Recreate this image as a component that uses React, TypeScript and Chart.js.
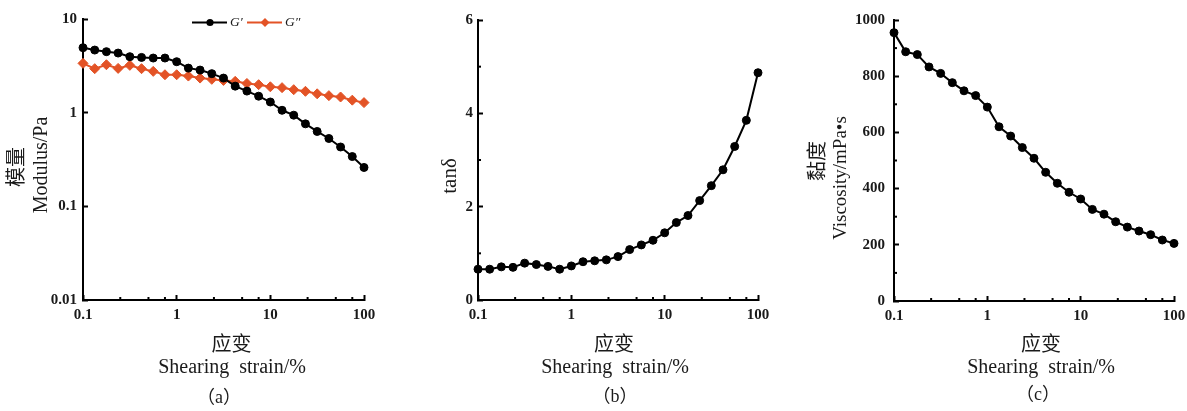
import React, { useEffect, useRef } from "react";
import { Chart, registerables } from "chart.js";

Chart.register(...registerables);

// ---------- data ----------
const STRAIN = [0.1, 0.1334, 0.1778, 0.2371, 0.3162, 0.4217, 0.5623, 0.7499, 1, 1.334, 1.778, 2.371, 3.162, 4.217, 5.623, 7.499, 10, 13.34, 17.78, 23.71, 31.62, 42.17, 56.23, 74.99, 100];
const G_STORAGE = [4.94, 4.66, 4.48, 4.33, 3.96, 3.89, 3.83, 3.83, 3.5, 2.99, 2.85, 2.61, 2.34, 1.92, 1.7, 1.5, 1.3, 1.06, 0.94, 0.76, 0.63, 0.53, 0.43, 0.34, 0.26];
const G_LOSS = [3.36, 2.95, 3.25, 2.97, 3.2, 2.95, 2.76, 2.54, 2.54, 2.46, 2.34, 2.27, 2.21, 2.16, 2.05, 1.99, 1.89, 1.85, 1.76, 1.69, 1.59, 1.52, 1.47, 1.36, 1.28];
const TAN_DELTA = [0.66, 0.66, 0.71, 0.7, 0.79, 0.76, 0.72, 0.66, 0.73, 0.82, 0.84, 0.86, 0.93, 1.08, 1.18, 1.28, 1.44, 1.66, 1.81, 2.13, 2.45, 2.79, 3.29, 3.85, 4.87];
const VISCOSITY = [955, 887, 877, 833, 810, 777, 748, 731, 690, 620, 587, 546, 508, 458, 419, 387, 363, 326, 309, 282, 263, 249, 236, 217, 205];

const X_TICKS = [0.1, 1, 10, 100];
const X_MINOR = [0.25, 0.5, 0.75, 2.5, 5, 7.5, 25, 50, 75];
const MODULUS_TICKS = [0.01, 0.1, 1, 10];
const TAN_TICKS = [0, 2, 4, 6];
const TAN_MINOR = [1, 3, 5];
const VISC_TICKS = [0, 200, 400, 600, 800, 1000];
const VISC_MINOR = [100, 300, 500, 700, 900];

const SERIES_LABELS = ["G\u2032", "G\u2033"];
const X_TITLE_CN = "应变";
const X_TITLE_EN = "Shearing  strain/%";
const CAPTIONS = ["（a）", "（b）", "（c）"];

// ---------- styles ----------
const H = 411;
const BLACK = "#000000";
const ORANGE = "#E35326";
const TEXT = "#1a1a1a";
const SERIF = '"Liberation Serif", "Times New Roman", serif';
const CJK = '"Noto Sans CJK SC", sans-serif';
const tickFont = { family: SERIF, size: 15, weight: "bold" as const };

const pts = (ys: number[]) => STRAIN.map((x, i) => ({ x, y: ys[i] }));

function zeroPadding(s: any) {
  s.paddingLeft = 0;
  s.paddingRight = 0;
  s.paddingTop = 0;
  s.paddingBottom = 0;
}

function minorTicks(xMinor: number[], yMinor: number[]) {
  return {
    id: "minorTicks",
    afterDraw(chart: any) {
      const { ctx, chartArea, scales } = chart;
      ctx.save();
      ctx.strokeStyle = BLACK;
      ctx.lineWidth = 2;
      xMinor.forEach((v) => {
        const px = scales.x.getPixelForValue(v);
        ctx.beginPath();
        ctx.moveTo(px, chartArea.bottom);
        ctx.lineTo(px, chartArea.bottom - 3);
        ctx.stroke();
      });
      yMinor.forEach((v) => {
        const py = scales.y.getPixelForValue(v);
        ctx.beginPath();
        ctx.moveTo(chartArea.left, py);
        ctx.lineTo(chartArea.left + 3, py);
        ctx.stroke();
      });
      ctx.restore();
    },
  };
}

type TextItem = { text: string; x: number; y: number; font: string; rotate?: boolean };

function panelTexts(items: TextItem[]) {
  return {
    id: "panelTexts",
    afterDraw(chart: any) {
      const ctx = chart.ctx;
      items.forEach((t) => {
        ctx.save();
        ctx.font = t.font;
        ctx.fillStyle = TEXT;
        ctx.textAlign = "center";
        ctx.textBaseline = "middle";
        ctx.translate(t.x, t.y);
        if (t.rotate) ctx.rotate(-Math.PI / 2);
        ctx.fillText(t.text, 0, 0);
        ctx.restore();
      });
    },
  };
}

function lineLegend(startX: number, y: number) {
  return {
    id: "lineLegend",
    afterDraw(chart: any) {
      const ctx = chart.ctx;
      let x = startX;
      chart.data.datasets.forEach((ds: any) => {
        ctx.save();
        ctx.strokeStyle = ds.borderColor;
        ctx.fillStyle = ds.borderColor;
        ctx.lineWidth = 2;
        ctx.beginPath();
        ctx.moveTo(x, y);
        ctx.lineTo(x + 35, y);
        ctx.stroke();
        const cx = x + 18;
        ctx.beginPath();
        if (ds.pointStyle === "rectRot") {
          const r = 4.5;
          ctx.moveTo(cx - r, y);
          ctx.lineTo(cx, y - r);
          ctx.lineTo(cx + r, y);
          ctx.lineTo(cx, y + r);
          ctx.closePath();
        } else {
          ctx.arc(cx, y, 3.6, 0, Math.PI * 2);
        }
        ctx.fill();
        ctx.fillStyle = TEXT;
        ctx.font = `italic 13.5px ${SERIF}`;
        ctx.textAlign = "left";
        ctx.textBaseline = "middle";
        ctx.fillText(ds.label, x + 38, y);
        ctx.restore();
        x += 55;
      });
    },
  };
}

type Spec = {
  W: number;
  left: number;
  right: number;
  top: number;
  bottom: number;
  datasets: any[];
  yType: "linear" | "logarithmic";
  yMin: number;
  yMax: number;
  yTicks: number[];
  yMinor: number[];
  yPad: number;
  texts: TextItem[];
  legend?: { x: number; y: number };
};

function buildConfig(spec: Spec): any {
  const grid = {
    display: true,
    drawOnChartArea: false,
    drawTicks: true,
    tickLength: -5,
    tickWidth: 2,
    tickColor: BLACK,
  };
  const border = { display: true, width: 2, color: BLACK };
  const plugins: any[] = [minorTicks(X_MINOR, spec.yMinor), panelTexts(spec.texts)];
  if (spec.legend) plugins.push(lineLegend(spec.legend.x, spec.legend.y));
  return {
    type: "line",
    data: { datasets: spec.datasets },
    options: {
      responsive: false,
      animation: false,
      devicePixelRatio: 1,
      layout: { padding: { left: 0, top: spec.top, right: spec.W - spec.right, bottom: 0 } },
      plugins: { legend: { display: false }, tooltip: { enabled: false }, title: { display: false } },
      scales: {
        x: {
          type: "logarithmic",
          position: "bottom",
          min: 0.1,
          max: 100,
          afterBuildTicks: (s: any) => {
            s.ticks = X_TICKS.map((v) => ({ value: v }));
          },
          afterFit: (s: any) => {
            s.height = H - spec.bottom;
            zeroPadding(s);
          },
          ticks: {
            callback: (v: any) => String(v),
            font: tickFont,
            color: TEXT,
            padding: 11,
            autoSkip: false,
            maxRotation: 0,
            minRotation: 0,
          },
          grid,
          border,
        },
        y: {
          type: spec.yType,
          position: "left",
          min: spec.yMin,
          max: spec.yMax,
          afterBuildTicks: (s: any) => {
            s.ticks = spec.yTicks.map((v) => ({ value: v }));
          },
          afterFit: (s: any) => {
            s.width = spec.left;
            zeroPadding(s);
          },
          ticks: {
            callback: (v: any) => String(v),
            font: tickFont,
            color: TEXT,
            padding: spec.yPad,
            autoSkip: false,
          },
          grid,
          border,
        },
      },
    },
    plugins,
  };
}

function lineDataset(label: string, ys: number[], color: string, style: string, radius: number) {
  return {
    label,
    data: pts(ys),
    borderColor: color,
    backgroundColor: color,
    pointBackgroundColor: color,
    pointBorderColor: color,
    pointBorderWidth: 1,
    pointStyle: style,
    pointRadius: radius,
    borderWidth: 2,
    tension: 0,
    clip: false,
  };
}

const EN20 = `20px ${SERIF}`;
const CN20 = `20px ${CJK}`;
const CAP = `18px ${SERIF}, ${CJK}`;

const SPECS: { canvasLeft: number; spec: Spec }[] = [
  {
    canvasLeft: 0,
    spec: {
      W: 390,
      left: 83,
      right: 364,
      top: 19,
      bottom: 300,
      datasets: [
        lineDataset(SERIES_LABELS[0], G_STORAGE, BLACK, "circle", 4),
        lineDataset(SERIES_LABELS[1], G_LOSS, ORANGE, "rectRot", 5),
      ],
      yType: "logarithmic",
      yMin: 0.01,
      yMax: 10,
      yTicks: MODULUS_TICKS,
      yMinor: [],
      yPad: 11,
      legend: { x: 192, y: 22.5 },
      texts: [
        { text: "模量", x: 15.5, y: 167, font: CN20, rotate: true },
        { text: "Modulus/Pa", x: 42, y: 165, font: EN20, rotate: true },
        { text: X_TITLE_CN, x: 231.5, y: 343, font: CN20 },
        { text: X_TITLE_EN, x: 232, y: 368, font: EN20 },
        { text: CAPTIONS[0], x: 219, y: 398, font: CAP },
      ],
    },
  },
  {
    canvasLeft: 390,
    spec: {
      W: 395,
      left: 88,
      right: 368,
      top: 20,
      bottom: 300,
      datasets: [lineDataset("tanδ", TAN_DELTA, BLACK, "circle", 4)],
      yType: "linear",
      yMin: 0,
      yMax: 6,
      yTicks: TAN_TICKS,
      yMinor: TAN_MINOR,
      yPad: 10,
      texts: [
        { text: "tanδ", x: 60, y: 176, font: `21px ${SERIF}`, rotate: true },
        { text: X_TITLE_CN, x: 224, y: 343, font: CN20 },
        { text: X_TITLE_EN, x: 225, y: 368, font: EN20 },
        { text: CAPTIONS[1], x: 225, y: 397, font: CAP },
      ],
    },
  },
  {
    canvasLeft: 785,
    spec: {
      W: 402,
      left: 109,
      right: 389,
      top: 20,
      bottom: 301,
      datasets: [lineDataset("Viscosity", VISCOSITY, BLACK, "circle", 4)],
      yType: "linear",
      yMin: 0,
      yMax: 1000,
      yTicks: VISC_TICKS,
      yMinor: VISC_MINOR,
      yPad: 14,
      texts: [
        { text: "黏度", x: 31, y: 161, font: CN20, rotate: true },
        { text: "Viscosity/mPa•s", x: 56, y: 178, font: `19px ${SERIF}`, rotate: true },
        { text: X_TITLE_CN, x: 256, y: 343, font: CN20 },
        { text: X_TITLE_EN, x: 256, y: 368, font: EN20 },
        { text: CAPTIONS[2], x: 253, y: 395, font: CAP },
      ],
    },
  },
];

function Panel({ canvasLeft, spec }: { canvasLeft: number; spec: Spec }) {
  const ref = useRef<HTMLCanvasElement | null>(null);
  useEffect(() => {
    if (!ref.current) return;
    const chart = new Chart(ref.current, buildConfig(spec));
    return () => chart.destroy();
  }, []);
  return (
    <canvas
      ref={ref}
      width={spec.W}
      height={H}
      style={{ position: "absolute", left: canvasLeft, top: 0, width: spec.W, height: H }}
    />
  );
}

export default function App() {
  return (
    <div style={{ position: "fixed", left: 0, top: 0, width: 1187, height: H, background: "#fff", overflow: "hidden" }}>
      {SPECS.map((p, i) => (
        <Panel key={i} canvasLeft={p.canvasLeft} spec={p.spec} />
      ))}
    </div>
  );
}
